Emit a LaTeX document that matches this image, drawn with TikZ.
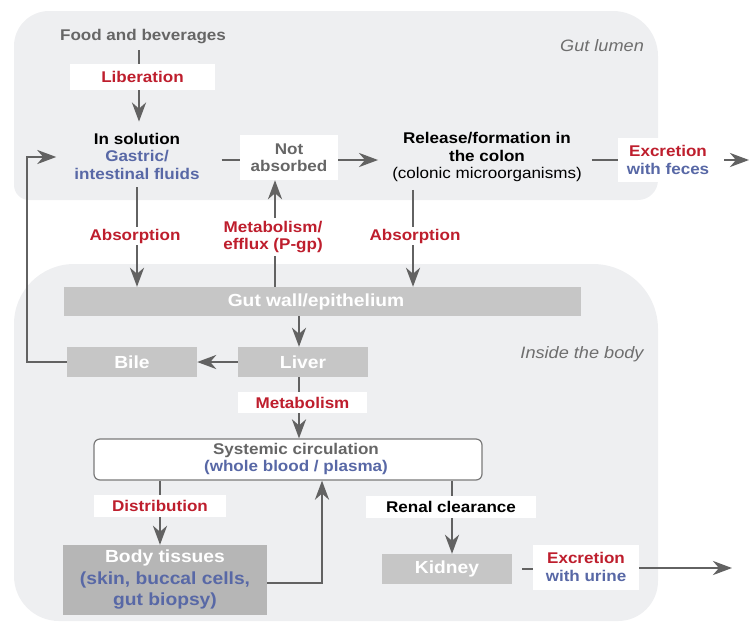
\documentclass[tikz,border=0pt]{standalone}
\usepackage{fontspec}
\setmainfont{Liberation Sans}[FakeStretch=1.1]
\usetikzlibrary{arrows.meta}
\definecolor{panel}{HTML}{EEEFF1}
\definecolor{boxgray}{HTML}{C6C6C6}
\definecolor{bodygray}{HTML}{B6B6B6}
\definecolor{arrgray}{HTML}{626262}
\definecolor{txtgray}{HTML}{666666}
\definecolor{sysgray}{HTML}{7A7A7A}
\definecolor{myred}{HTML}{BE1E2D}
\definecolor{myblue}{HTML}{5868A6}
\definecolor{italgray}{HTML}{6E6E6E}
\pgfdeclarelayer{bg}
\pgfdeclarelayer{lines}
\pgfsetlayers{bg,lines,main}
\tikzset{
  lbl/.style={font=\fontsize{15.5}{17.5}\selectfont\bfseries, align=center, inner sep=2pt},
  whitebox/.style={lbl, fill=white},
  gbox/.style={fill=boxgray, text=white, font=\fontsize{17.5}{21.5}\selectfont\bfseries, align=center, inner sep=0pt},
  itlbl/.style={font=\fontsize{16.5}{19}\selectfont\itshape, text=italgray},
  ln/.style={draw=arrgray, line width=2.8pt},
  arr/.style={ln, -{Stealth[length=19pt,width=14pt,inset=6pt]}},
}
\begin{document}
\begin{tikzpicture}[x=1pt,y=-1pt]
\useasboundingbox (0,0) rectangle (749,622);
\begin{pgfonlayer}{bg}
\fill[panel] (14,100) [rounded corners=35pt] -- (14,11) [rounded corners=45pt] -- (658,11) [rounded corners=20pt] -- (658,200) [rounded corners=15pt] -- (14,200) -- cycle;
\fill[panel] (14,400) [rounded corners=60pt] -- (14,264) [rounded corners=65pt] -- (658,264) [rounded corners=40pt] -- (658,621) [rounded corners=45pt] -- (14,621) -- cycle;
\end{pgfonlayer}

% helper coordinates
\coordinate (cF) at (139,0);
\coordinate (cA) at (137,0);
\coordinate (cB) at (413,0);
\coordinate (cM) at (275,0);
\coordinate (cL) at (299,0);
\coordinate (cD) at (160,0);
\coordinate (cR) at (322,0);
\coordinate (cK) at (452,0);
\coordinate (cX) at (27,157);
\coordinate (cH) at (0,160);
\coordinate (fout) at (749,160);
\coordinate (uout) at (732,568);

% region labels
\node[itlbl] (gl) at (602,46) {Gut lumen};
\node[itlbl] (itb) at (582,354) {Inside the body};

% gut lumen nodes
\node[lbl, text=txtgray] (food) at (143,37) {Food and beverages};
\node[whitebox, text=myred, minimum width=145pt, minimum height=26pt] (lib) at (142.5,77) {Liberation};
\node[lbl] (insol) at (137,156) {In solution\\\textcolor{myblue}{Gastric/}\\\textcolor{myblue}{intestinal fluids}};
\node[whitebox, text=txtgray, minimum width=98pt, minimum height=45pt] (notabs) at (289,157.5) {Not\\absorbed};
\node[lbl] (colon) at (487,157) {Release/formation in\\the colon\\\mdseries(colonic microorganisms)};
\node[whitebox, minimum width=100pt, minimum height=44pt] (excf) at (668,160) {\textcolor{myred}{Excretion}\\\textcolor{myblue}{with feces}};

% between panels
\node[lbl, text=myred, fill=white] (absL) at (135,236) {Absorption};
\node[lbl, text=myred, fill=white] (absR) at (415,236) {Absorption};
\node[lbl, text=myred, fill=white, inner sep=3pt] (meff) at (273,237) {Metabolism/\\efflux (P-gp)};

% inside the body
\node[gbox, minimum width=517pt, minimum height=29pt] (gut) at (322.5,301.5) {Gut wall/epithelium\hspace*{13pt}};
\node[gbox, minimum width=130pt, minimum height=30pt] (liver) at (303,362) {Liver};
\node[gbox, minimum width=130pt, minimum height=30pt] (bile) at (132,362) {Bile};
\node[whitebox, text=myred, minimum width=129pt, minimum height=21pt, inner sep=1pt] (metab) at (302.5,402.5) {Metabolism};
\node[draw=sysgray, fill=white, rounded corners=6pt, line width=1.2pt, minimum width=388pt, minimum height=41pt] (syst) at (288,459.5) {};
\node[lbl, text=txtgray] (systxt) at (296,459) {Systemic circulation\\\textcolor{myblue}{(whole blood / plasma)}};
\node[whitebox, text=myred, minimum width=132pt, minimum height=22pt, inner sep=1pt] (dist) at (160,506) {Distribution};
\node[gbox, fill=bodygray, minimum width=204pt, minimum height=70pt] (body) at (165,580) {Body tissues\\\textcolor{myblue}{(skin, buccal cells,}\\\textcolor{myblue}{gut biopsy)}};
\node[whitebox, text=black, minimum width=170pt, minimum height=22pt, inner sep=1pt] (renal) at (451,506.5) {Renal clearance};
\node[gbox, minimum width=130pt, minimum height=30pt] (kidney) at (447,569) {Kidney};
\node[whitebox, minimum width=106pt, minimum height=45pt] (excu) at (586,567) {\textcolor{myred}{Excretion}\\\textcolor{myblue}{with urine}};

\begin{pgfonlayer}{lines}
\draw[arr, shorten <=4pt, shorten >=9pt] (food.south -| cF) -- (insol.north -| cF);
\draw[ln, shorten <=20pt] (insol.east |- cH) -- (notabs.west |- cH);
\draw[arr, shorten >=12pt] (notabs.east |- cH) -- (colon.west |- cH);
\draw[ln, shorten <=8pt] (colon.east |- cH) -- (excf.west |- cH);
\draw[arr, shorten <=6pt] (excf.east |- cH) -- (fout);
\draw[arr, shorten <=6pt] (insol.south -| cA) -- (gut.north -| cA);
\draw[arr, shorten <=6pt] (colon.south -| cB) -- (gut.north -| cB);
\draw[arr] (gut.north -| cM) -- (notabs.south -| cM);
\draw[arr] (gut.south -| cL) -- (liver.north -| cL);
\draw[arr] (liver.west) -- (bile.east);
\draw[arr, shorten >=16pt] (bile.west) -| (cX) -- (cX -| insol.west);
\draw[arr] (liver.south -| cL) -- (syst.north -| cL);
\draw[arr] (syst.south -| cD) -- (body.north -| cD);
\draw[arr] ([yshift=-3pt]body.east) -| (syst.south -| cR);
\draw[arr] (syst.south -| cK) -- (kidney.north -| cK);
\draw[ln, shorten <=10pt] (kidney.east) -- (kidney.east -| excu.west);
\draw[arr] (excu.east |- uout) -- (uout);
\end{pgfonlayer}
\end{tikzpicture}
\end{document}
